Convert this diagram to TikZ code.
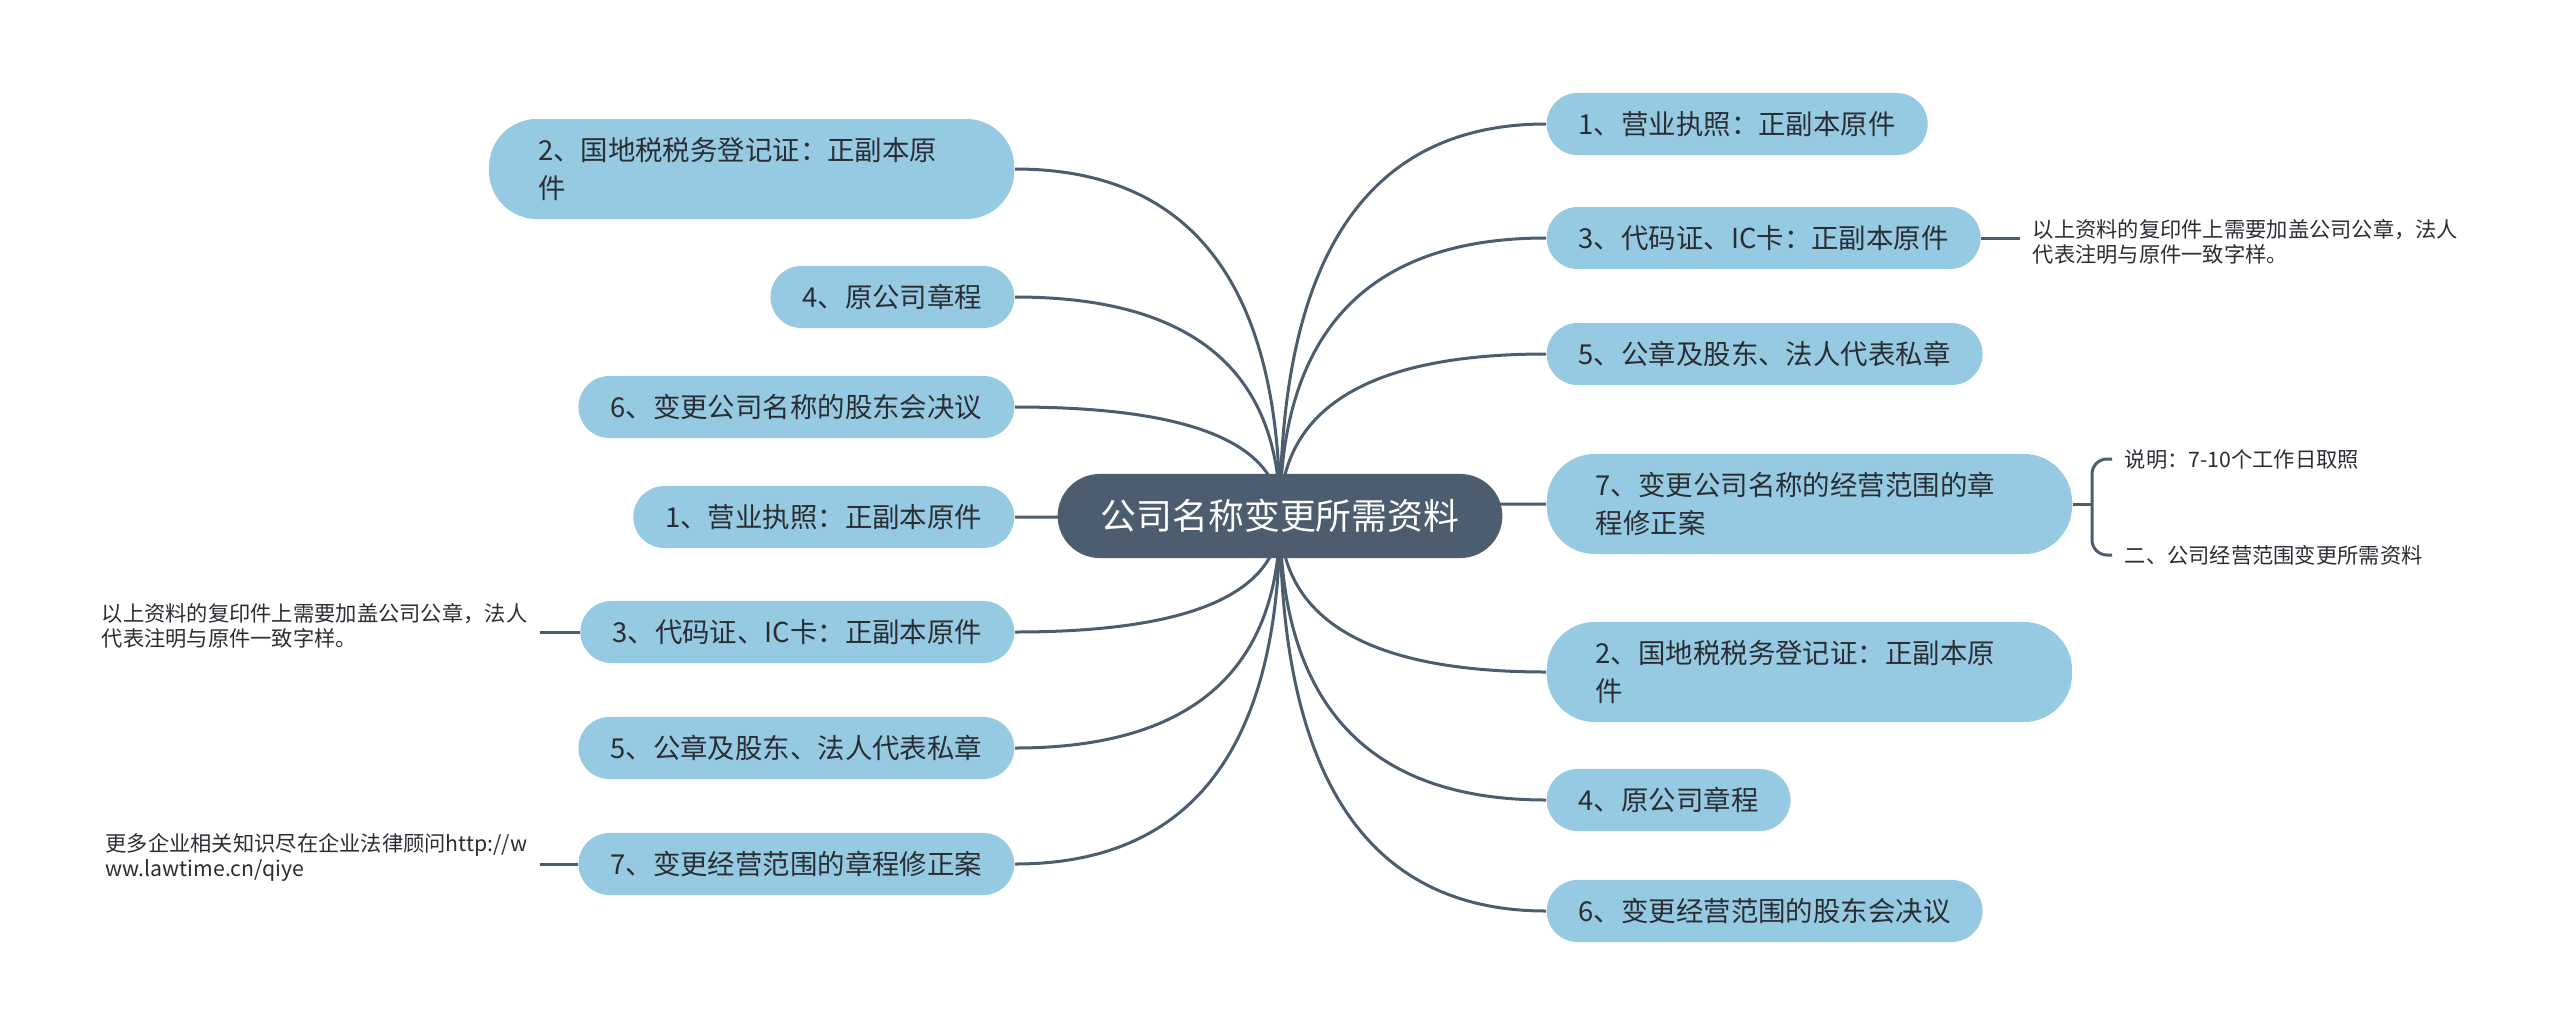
\documentclass[tikz,border=0pt]{standalone}
\usepackage{fontspec}
\setmainfont{Noto Sans CJK SC}
\usetikzlibrary{backgrounds,calc}

\definecolor{rootfill}{HTML}{4B5D6E}
\definecolor{topicfill}{HTML}{96CAE3}
\definecolor{linkcol}{HTML}{4B5D6E}
\definecolor{txtcol}{HTML}{2A2E33}

\begin{document}
\begin{tikzpicture}[
x=0.01cm,
y=-0.01cm,
root/.style={fill=rootfill,text=white,rounded corners=0.42cm,minimum height=0.84cm,inner xsep=0.43cm,font=\fontsize{10.2pt}{12pt}\selectfont},
topic/.style={fill=topicfill,text=txtcol,rounded corners=0.31cm,minimum height=0.62cm,inner xsep=0.32cm,font=\fontsize{7.8pt}{10.8pt}\selectfont},
topictwo/.style={topic,rounded corners=0.48cm,minimum height=1cm,inner xsep=0.49cm,text width=4.27cm,align=left},
note/.style={text=txtcol,inner xsep=0.12cm,align=left,font=\fontsize{6.05pt}{7.1pt}\selectfont},
link/.style={linkcol,line width=0.03cm}
]
\useasboundingbox (0,0) rectangle (2560,1033);

% centre
\node[root] (root) at (1280,516) {公司名称变更所需资料};

% right side
\node[topic,anchor=west] (r1) at (1546,124) {1、营业执照：正副本原件};
\node[topic,anchor=west] (r3) at (1546,238) {3、代码证、IC卡：正副本原件};
\node[topic,anchor=west] (r5) at (1546,354) {5、公章及股东、法人代表私章};
\node[topictwo,anchor=west] (r7) at (1546,504) {7、变更公司名称的经营范围的章\\程修正案};
\node[topictwo,anchor=west] (r2) at (1546,672) {2、国地税税务登记证：正副本原\\件};
\node[topic,anchor=west] (r4) at (1546,800) {4、原公司章程};
\node[topic,anchor=west] (r6) at (1546,911) {6、变更经营范围的股东会决议};

% left side
\node[topictwo,anchor=east] (l2) at (1015,169) {2、国地税税务登记证：正副本原\\件};
\node[topic,anchor=east] (l4) at (1015,297) {4、原公司章程};
\node[topic,anchor=east] (l6) at (1015,407) {6、变更公司名称的股东会决议};
\node[topic,anchor=east] (l1) at (1015,517) {1、营业执照：正副本原件};
\node[topic,anchor=east] (l3) at (1015,632) {3、代码证、IC卡：正副本原件};
\node[topic,anchor=east] (l5) at (1015,748) {5、公章及股东、法人代表私章};
\node[topic,anchor=east] (l7) at (1015,864) {7、变更经营范围的章程修正案};

% notes
\node[note,anchor=west] (n3r) at (2020,242) {以上资料的复印件上需要加盖公司公章，法人\\代表注明与原件一致字样。};
\node[note,anchor=east] (n3l) at (540,626) {以上资料的复印件上需要加盖公司公章，法人\\代表注明与原件一致字样。};
\node[note,anchor=east] (n7l) at (540,857) {更多企业相关知识尽在企业法律顾问http://w\\ww.lawtime.cn/qiye};
\node[note,anchor=west] (s1) at (2112,459) {说明：7-10个工作日取照};
\node[note,anchor=west] (s2) at (2112,555) {二、公司经营范围变更所需资料};
\coordinate (j7) at (2092,504);

% connecting lines (quadratic curves from the centre)
\begin{scope}[on background layer]
\foreach \n/\a in {r1/west,r3/west,r5/west,r7/west,r2/west,r4/west,r6/west,
                   l2/east,l4/east,l6/east,l1/east,l3/east,l5/east,l7/east} {
  \coordinate (k) at (root.center |- \n.\a);
  \draw[link] (root.center) .. controls ($(root.center)!2/3!(k)$) and ($(\n.\a)!2/3!(k)$) .. (\n.\a);
}
\end{scope}

\draw[link] (r3.east) -- (r3.east -| n3r.west);
\draw[link] (l3.west) -- (l3.west -| n3l.east);
\draw[link] (l7.west) -- (l7.west -| n7l.east);
\draw[link] (r7.east) -- (j7);
\draw[link,rounded corners=0.15cm] (s1.west) -| (j7) |- (s2.west);

\end{tikzpicture}
\end{document}
